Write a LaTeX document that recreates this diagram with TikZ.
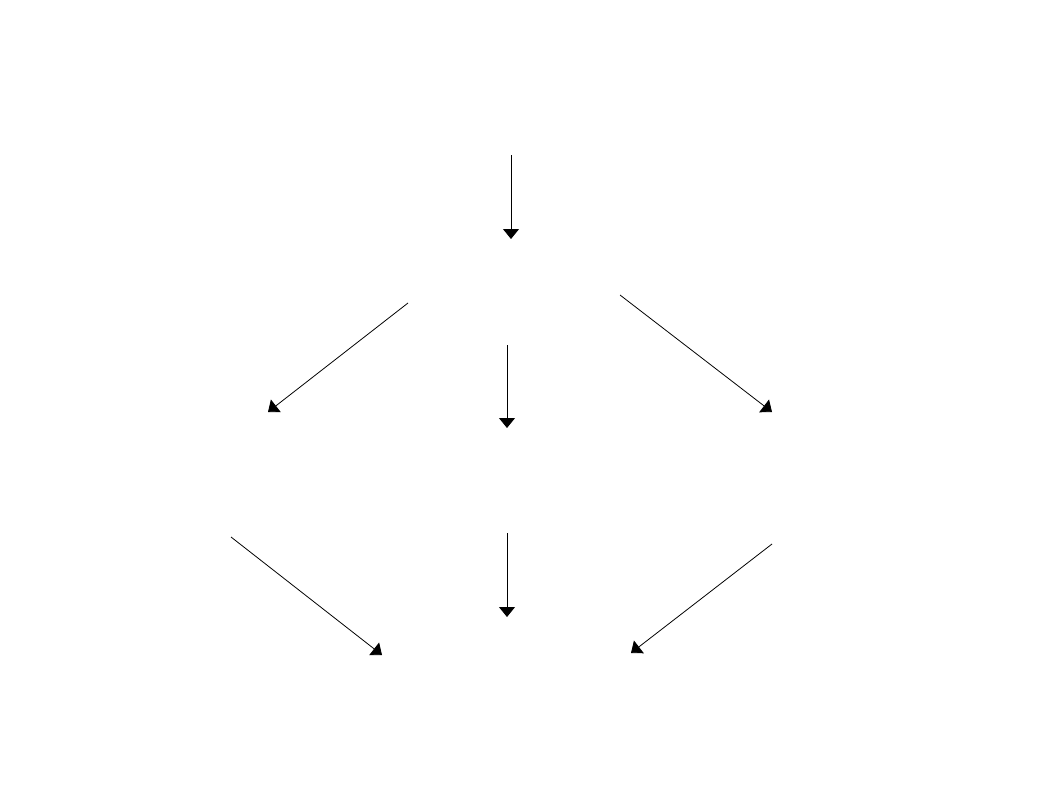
\documentclass[tikz,border=0pt]{standalone}
\usepackage{tikz}
\usetikzlibrary{arrows,arrows.meta,positioning}

\begin{document}
\begin{tikzpicture}[%
    >={Triangle[width=0.32cm,length=0.2cm]},  % filled heads as in the sketch
    flow/.style={line width=0.45pt, ->},
    x=0.02cm,
    y=-0.02cm
    ]

    \useasboundingbox (0,0) rectangle (1058,794);

    % top
    \coordinate (s1) at (511,155);  \coordinate (e1) at (511,239);
        \draw [flow] (s1) -- (e1);

    % middle row
    \coordinate (s2) at (408,303);  \coordinate (e2) at (268,412);
    \coordinate (s3) at (507,345);  \coordinate (e3) at (507,428);
    \coordinate (s4) at (620,295);  \coordinate (e4) at (772,412);
        \draw [flow] (s2) -- (e2);
        \draw [flow] (s3) -- (e3);
        \draw [flow] (s4) -- (e4);

    % bottom row
    \coordinate (s5) at (231,537);  \coordinate (e5) at (382,655);
    \coordinate (s6) at (507,533);  \coordinate (e6) at (507,617);
    \coordinate (s7) at (772,544);  \coordinate (e7) at (631,653);
        \draw [flow] (s5) -- (e5);
        \draw [flow] (s6) -- (e6);
        \draw [flow] (s7) -- (e7);
\end{tikzpicture}
\end{document}
